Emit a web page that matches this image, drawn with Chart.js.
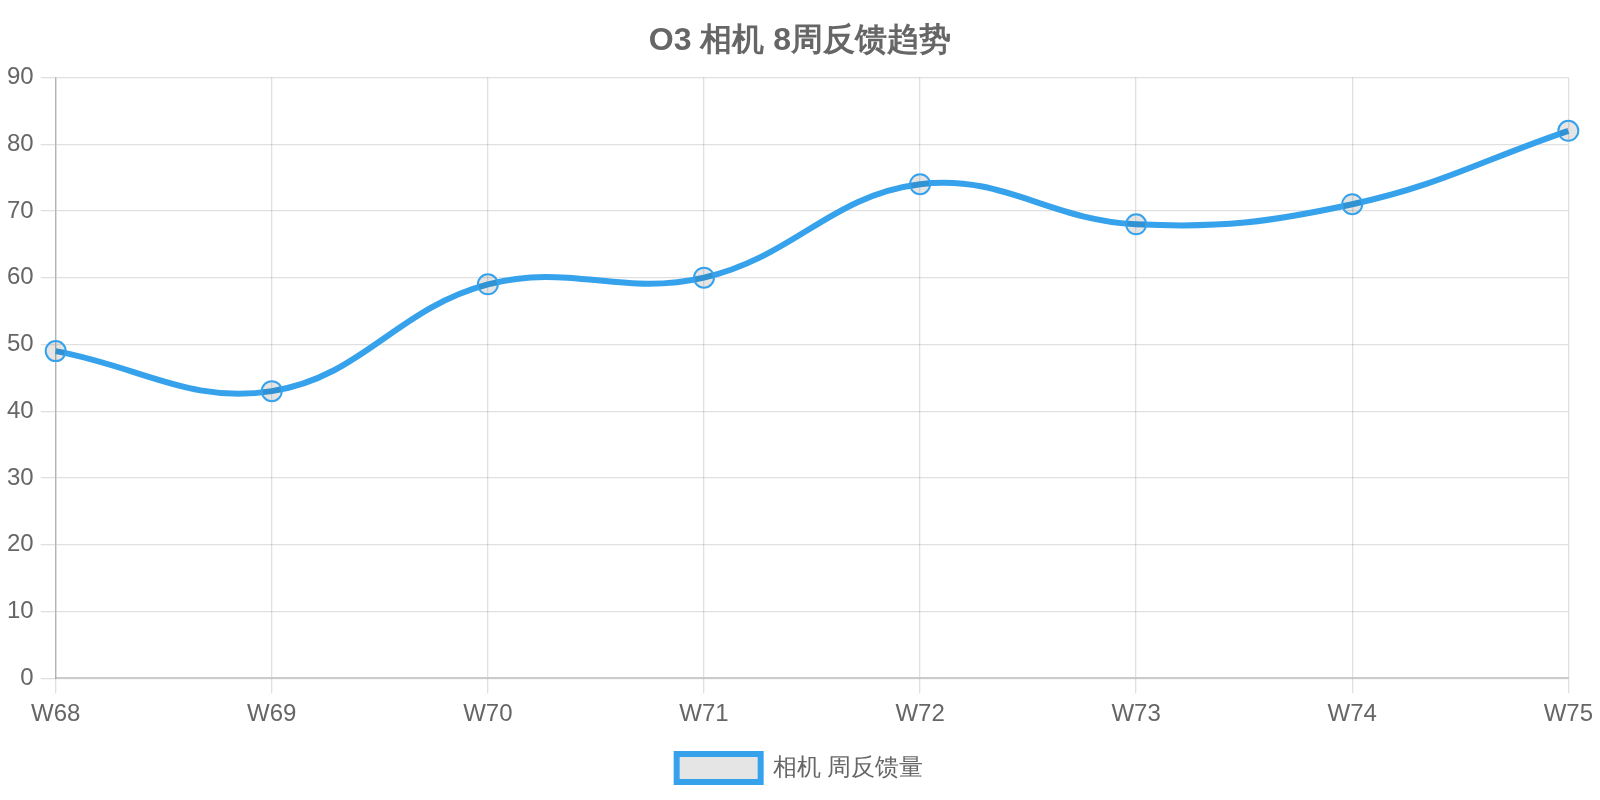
<!DOCTYPE html>
<html>
<head>
<meta charset="utf-8">
<script src="https://cdn.jsdelivr.net/npm/chart.js@4"></script>
<style>
  body { margin: 0; background: #fff; }
  #wrap { width: 1600px; height: 800px; }
</style>
</head>
<body>
<div id="wrap"><canvas id="trend"></canvas></div>
<script>
const weeks = ['W68', 'W69', 'W70', 'W71', 'W72', 'W73', 'W74', 'W75'];
const feedback = [49, 43, 59, 60, 74, 68, 71, 82];
const yTicks = { min: 0, max: 90, step: 10 };

Chart.defaults.font.family = '"Liberation Sans", Arial, sans-serif';
Chart.defaults.color = '#666';

new Chart(document.getElementById('trend'), {
  type: 'line',
  data: {
    labels: weeks,
    datasets: [{
      label: '相机 周反馈量',
      data: feedback,
      borderColor: '#36a2eb',
      backgroundColor: 'rgba(0,0,0,0.1)',
      borderWidth: 6,
      tension: 0.4,
      pointRadius: 10,
      pointBorderWidth: 2,
      pointBorderColor: '#36a2eb'
    }]
  },
  options: {
    responsive: true,
    maintainAspectRatio: false,
    animation: false,
    layout: { padding: { left: 0, right: 0, top: 12, bottom: 8 } },
    plugins: {
      title: {
        display: true,
        text: 'O3 相机 8周反馈趋势',
        font: { size: 32, weight: 'bold' },
        padding: { top: 10, bottom: 17 }
      },
      legend: {
        position: 'bottom',
        labels: { font: { size: 24 }, boxWidth: 84, boxHeight: 28, padding: 18 }
      }
    },
    scales: {
      x: {
        grid: { lineWidth: 1.3, tickLength: 15, color: 'rgba(0,0,0,0.12)' },
        border: { color: 'rgba(0,0,0,0.2)', width: 1.5 },
        ticks: { font: { size: 24 }, padding: 7 }
      },
      y: {
        min: yTicks.min,
        max: yTicks.max,
        grid: { lineWidth: 1.3, tickLength: 15, color: 'rgba(0,0,0,0.12)' },
        border: { color: 'rgba(0,0,0,0.2)', width: 1.5 },
        ticks: { stepSize: yTicks.step, font: { size: 24 }, padding: 7 }
      }
    }
  }
});
</script>
</body>
</html>
